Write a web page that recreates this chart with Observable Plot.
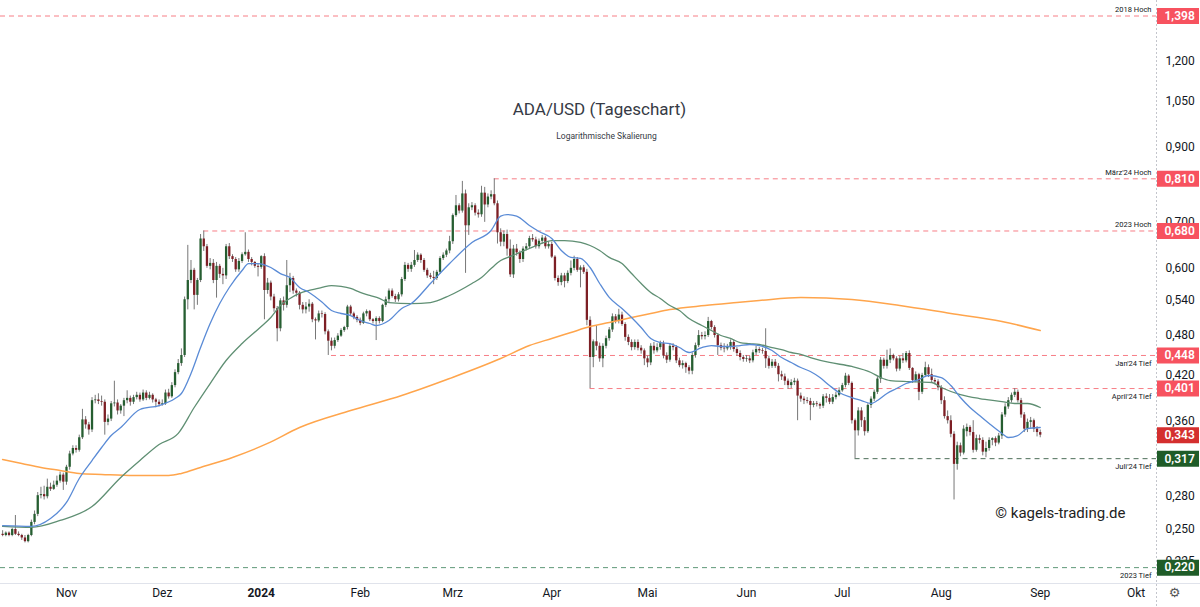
<!DOCTYPE html>
<html>
<head>
<meta charset="utf-8">
<script src="https://cdn.jsdelivr.net/npm/d3@7"></script>
<script src="https://cdn.jsdelivr.net/npm/@observablehq/plot@0.6"></script>
<style>
  html, body { margin: 0; padding: 0; background: #ffffff; }
  #chart { width: 1200px; height: 607px; }
</style>
</head>
<body>
<div id="chart"></div>
<script>
// ---------- daily candles [open, high, low, close] per month ----------
const candlesOct23 = [
  [.246,.249,.244,.245],[.245,.248,.244,.247],[.247,.248,.244,.245],[.245,.251,.244,.250],
  [.250,.262,.245,.246],[.246,.248,.244,.245],[.245,.246,.241,.243],[.243,.245,.239,.240],
  [.240,.246,.239,.245],[.245,.258,.244,.256],[.256,.266,.254,.263],[.263,.283,.261,.280],
  [.280,.288,.277,.281],[.281,.289,.276,.279],[.279,.296,.277,.288],[.288,.292,.284,.286],
  [.286,.294,.285,.290],[.290,.299,.288,.294],[.294,.303,.292,.300],[.300,.302,.285,.293]
];
const candlesNov23 = [
  [.293,.310,.290,.308],[.308,.325,.305,.322],[.322,.331,.320,.328],[.328,.331,.323,.326],
  [.326,.343,.324,.340],[.340,.374,.338,.361],[.361,.365,.350,.355],[.355,.358,.343,.349],
  [.349,.389,.346,.385],[.385,.392,.381,.386],[.386,.394,.380,.384],[.384,.391,.378,.383],
  [.383,.386,.343,.358],[.358,.367,.354,.362],[.362,.384,.359,.381],[.381,.411,.377,.382],
  [.382,.386,.367,.372],[.372,.380,.368,.378],[.378,.388,.365,.385],[.385,.398,.381,.388],
  [.388,.391,.378,.383],[.383,.392,.380,.389],[.389,.396,.386,.392],[.392,.395,.383,.386],
  [.386,.399,.384,.395],[.395,.398,.385,.388],[.388,.396,.386,.392],[.392,.394,.382,.386],
  [.386,.388,.376,.383],[.383,.386,.377,.380]
];
const candlesDec23 = [
  [.380,.386,.378,.381],[.381,.399,.379,.395],[.395,.400,.387,.390],[.390,.409,.388,.405],
  [.405,.427,.402,.423],[.423,.442,.420,.436],[.436,.458,.432,.448],[.448,.545,.445,.540],
  [.540,.648,.522,.576],[.576,.616,.570,.596],[.596,.600,.522,.548],[.548,.580,.530,.576],
  [.576,.672,.572,.662],[.662,.680,.635,.645],[.645,.650,.600,.604],[.604,.620,.597,.610],
  [.610,.618,.570,.576],[.576,.612,.543,.604],[.604,.608,.580,.588],[.588,.600,.568,.585],
  [.585,.650,.578,.645],[.645,.652,.618,.624],[.624,.628,.612,.618],[.618,.622,.592,.597],
  [.597,.620,.592,.614],[.614,.632,.610,.628],[.628,.676,.625,.633],[.633,.638,.612,.618],
  [.618,.622,.605,.612],[.612,.614,.600,.604],[.604,.608,.583,.602]
];
const candlesJan24 = [
  [.602,.626,.598,.624],[.624,.630,.505,.557],[.557,.580,.550,.571],[.571,.575,.538,.545],
  [.545,.550,.518,.524],[.524,.528,.469,.490],[.490,.542,.485,.538],[.538,.545,.520,.530],
  [.530,.616,.525,.566],[.566,.590,.553,.580],[.580,.584,.550,.556],[.556,.560,.545,.552],
  [.552,.555,.522,.530],[.530,.535,.515,.522],[.522,.535,.515,.527],[.527,.540,.518,.532],
  [.532,.535,.500,.505],[.505,.508,.472,.503],[.503,.520,.500,.515],[.515,.520,.508,.514],
  [.514,.517,.480,.485],[.485,.488,.448,.470],[.470,.475,.455,.462],[.462,.475,.458,.471],
  [.471,.482,.468,.478],[.478,.490,.476,.487],[.487,.494,.484,.492],[.492,.530,.488,.527],
  [.527,.530,.512,.515],[.515,.518,.505,.509],[.509,.512,.500,.504]
];
const candlesFeb24 = [
  [.504,.508,.495,.499],[.499,.518,.497,.515],[.515,.522,.510,.519],[.519,.521,.502,.505],
  [.505,.507,.498,.502],[.502,.510,.471,.507],[.507,.510,.498,.502],[.502,.532,.500,.530],
  [.530,.545,.526,.540],[.540,.560,.535,.556],[.556,.560,.543,.546],[.546,.550,.535,.540],
  [.540,.553,.536,.549],[.549,.582,.545,.578],[.578,.612,.574,.606],[.606,.610,.592,.598],
  [.598,.612,.592,.606],[.606,.637,.602,.616],[.616,.632,.612,.627],[.627,.630,.610,.616],
  [.616,.620,.592,.596],[.596,.600,.580,.585],[.585,.590,.578,.582],[.582,.594,.568,.580],
  [.580,.596,.576,.592],[.592,.624,.588,.620],[.620,.632,.616,.627],[.627,.640,.622,.636],
  [.636,.668,.630,.656]
];
const candlesMar24 = [
  [.656,.720,.650,.716],[.716,.766,.712,.740],[.740,.745,.720,.727],[.727,.803,.722,.770],
  [.770,.780,.590,.692],[.692,.745,.670,.735],[.735,.748,.728,.740],[.740,.745,.715,.722],
  [.722,.730,.710,.718],[.718,.790,.712,.772],[.772,.787,.700,.742],[.742,.770,.735,.762],
  [.762,.778,.755,.768],[.768,.810,.740,.745],[.745,.752,.651,.676],[.676,.685,.645,.655],
  [.655,.680,.645,.672],[.672,.682,.625,.640],[.640,.660,.582,.587],[.587,.648,.580,.640],
  [.640,.650,.625,.632],[.632,.636,.610,.618],[.618,.645,.612,.640],[.640,.652,.636,.645],
  [.645,.668,.640,.663],[.663,.672,.655,.660],[.660,.666,.640,.645],[.645,.662,.640,.657],
  [.657,.670,.650,.664],[.664,.668,.640,.645],[.645,.656,.640,.650]
];
const candlesApr24 = [
  [.650,.655,.620,.623],[.623,.626,.575,.580],[.580,.585,.565,.572],[.572,.590,.566,.585],
  [.585,.590,.562,.574],[.574,.595,.570,.590],[.590,.615,.585,.600],[.600,.625,.595,.618],
  [.618,.622,.592,.596],[.596,.605,.562,.601],[.601,.606,.588,.592],[.592,.598,.495,.504],
  [.504,.510,.401,.445],[.445,.472,.430,.469],[.469,.495,.455,.462],[.462,.467,.438,.443],
  [.443,.466,.430,.462],[.462,.478,.458,.474],[.474,.492,.470,.488],[.488,.515,.484,.510],
  [.510,.514,.498,.502],[.502,.523,.498,.513],[.513,.518,.494,.497],[.497,.500,.470,.476],
  [.476,.480,.463,.468],[.468,.472,.455,.460],[.460,.472,.456,.468],[.468,.472,.455,.459],
  [.459,.463,.450,.455],[.455,.458,.433,.443]
];
const candlesMay24 = [
  [.443,.447,.430,.437],[.437,.466,.433,.462],[.462,.468,.450,.455],[.455,.466,.452,.460],
  [.460,.470,.456,.466],[.466,.470,.443,.447],[.447,.452,.436,.441],[.441,.466,.438,.462],
  [.462,.466,.455,.460],[.460,.463,.436,.440],[.440,.444,.430,.433],[.433,.440,.428,.436],
  [.436,.438,.422,.430],[.430,.433,.420,.425],[.425,.452,.420,.448],[.448,.467,.444,.463],
  [.463,.487,.460,.479],[.479,.484,.472,.477],[.477,.485,.472,.479],[.479,.509,.476,.502],
  [.502,.504,.488,.492],[.492,.495,.475,.479],[.479,.482,.448,.463],[.463,.467,.455,.459],
  [.459,.466,.452,.458],[.458,.465,.455,.460],[.460,.472,.456,.468],[.468,.472,.453,.457],
  [.457,.460,.447,.451],[.451,.455,.440,.445],[.445,.448,.438,.442]
];
const candlesJun24 = [
  [.442,.448,.438,.443],[.443,.447,.436,.440],[.440,.456,.437,.452],[.452,.462,.448,.457],
  [.457,.460,.451,.455],[.455,.459,.450,.454],[.454,.490,.429,.443],[.443,.447,.428,.432],
  [.432,.442,.429,.438],[.438,.442,.429,.432],[.432,.436,.410,.420],[.420,.425,.412,.417],
  [.417,.421,.405,.411],[.411,.414,.400,.405],[.405,.413,.401,.409],[.409,.415,.405,.411],
  [.411,.414,.360,.391],[.391,.395,.383,.387],[.387,.390,.380,.385],[.385,.389,.381,.384],
  [.384,.388,.360,.379],[.379,.384,.376,.381],[.381,.384,.377,.380],[.380,.382,.374,.378],
  [.378,.393,.375,.390],[.390,.394,.382,.388],[.388,.393,.380,.383],[.383,.393,.380,.389],
  [.389,.396,.386,.392],[.392,.402,.390,.398]
];
const candlesJul24 = [
  [.398,.408,.396,.405],[.405,.422,.402,.418],[.418,.420,.405,.408],[.408,.410,.356,.360],
  [.360,.362,.317,.348],[.348,.376,.342,.372],[.372,.376,.352,.360],[.360,.364,.342,.347],
  [.347,.381,.345,.379],[.379,.390,.375,.387],[.387,.399,.384,.396],[.396,.417,.393,.414],
  [.414,.445,.408,.441],[.441,.444,.428,.432],[.432,.456,.428,.441],[.441,.458,.436,.448],
  [.448,.450,.440,.443],[.443,.446,.424,.428],[.428,.447,.425,.443],[.443,.451,.436,.440],
  [.440,.454,.437,.451],[.451,.455,.426,.429],[.429,.430,.408,.412],[.412,.424,.409,.420],
  [.420,.422,.385,.396],[.396,.422,.393,.419],[.419,.438,.416,.430],[.430,.434,.416,.420],
  [.420,.428,.409,.412],[.412,.415,.406,.410],[.410,.413,.398,.402]
];
const candlesAug24 = [
  [.402,.405,.380,.385],[.385,.390,.362,.365],[.365,.372,.356,.360],[.360,.366,.340,.344],
  [.344,.347,.276,.311],[.311,.335,.305,.331],[.331,.334,.319,.323],[.323,.354,.321,.350],
  [.347,.356,.341,.352],[.352,.354,.342,.346],[.346,.360,.323,.326],[.326,.343,.324,.339],
  [.339,.343,.333,.337],[.337,.340,.320,.324],[.324,.335,.318,.328],[.328,.340,.325,.337],
  [.337,.340,.331,.339],[.339,.341,.330,.334],[.334,.345,.332,.342],[.342,.370,.338,.367],
  [.367,.381,.364,.377],[.377,.389,.374,.385],[.385,.395,.382,.392],[.392,.401,.389,.396],
  [.396,.399,.382,.385],[.385,.388,.363,.367],[.367,.370,.346,.350],[.350,.362,.346,.358],
  [.358,.364,.351,.360],[.360,.362,.346,.350],[.350,.353,.341,.346]
];
const candlesSep24 = [
  [.346,.349,.340,.343]
];
const candleMonthStarts = ["2023-10-12","2023-11-01","2023-12-01","2024-01-01","2024-02-01","2024-03-01",
  "2024-04-01","2024-05-01","2024-06-01","2024-07-01","2024-08-01","2024-09-01"];
const candleMonths = [candlesOct23, candlesNov23, candlesDec23, candlesJan24, candlesFeb24, candlesMar24,
  candlesApr24, candlesMay24, candlesJun24, candlesJul24, candlesAug24, candlesSep24];

// ---------- moving averages ----------
const maShortDates = ["2023-10-12","2023-10-21","2023-10-27","2023-11-01","2023-11-05","2023-11-09","2023-11-12","2023-11-15","2023-11-18","2023-11-24","2023-11-30","2023-12-05","2023-12-07","2023-12-10","2023-12-13","2023-12-16","2023-12-19","2023-12-22","2023-12-26","2023-12-28","2023-12-31","2024-01-04","2024-01-07","2024-01-10","2024-01-13","2024-01-16","2024-01-20","2024-01-23","2024-01-26","2024-01-29","2024-02-01","2024-02-04","2024-02-06","2024-02-10","2024-02-14","2024-02-17","2024-02-23","2024-02-29","2024-03-07","2024-03-13","2024-03-16","2024-03-18","2024-03-21","2024-03-25","2024-03-28","2024-04-01","2024-04-04","2024-04-07","2024-04-10","2024-04-13","2024-04-16","2024-04-19","2024-04-23","2024-04-26","2024-04-29","2024-05-02","2024-05-05","2024-05-08","2024-05-11","2024-05-14","2024-05-18","2024-05-21","2024-05-24","2024-05-27","2024-05-30","2024-06-02","2024-06-05","2024-06-09","2024-06-12","2024-06-15","2024-06-18","2024-06-21","2024-06-24","2024-06-27","2024-06-30","2024-07-04","2024-07-07","2024-07-10","2024-07-12","2024-07-15","2024-07-18","2024-07-21","2024-07-25","2024-07-28","2024-08-01","2024-08-04","2024-08-07","2024-08-10","2024-08-13","2024-08-16","2024-08-20","2024-08-22","2024-08-25","2024-08-28","2024-09-01"];
const maShortValues = [.2533,.2526,.2594,.2737,.2966,.3150,.3291,.3426,.3519,.3738,.3788,.3878,.3944,.4218,.4601,.4987,.5332,.5627,.5956,.6097,.6097,.6017,.5896,.5818,.5627,.5534,.5359,.5209,.5157,.5122,.5037,.4987,.4953,.5037,.5244,.5332,.5703,.6097,.6543,.6811,.7149,.7186,.7149,.6925,.6789,.6631,.6370,.6224,.6203,.6017,.5703,.5442,.5244,.5088,.4920,.4743,.4679,.4663,.4601,.4525,.4601,.4632,.4617,.4617,.4632,.4648,.4632,.4555,.4449,.4376,.4303,.4246,.4161,.4051,.3957,.3891,.3852,.3814,.3852,.3944,.4010,.4078,.4133,.4189,.4161,.4051,.3891,.3763,.3663,.3566,.3450,.3403,.3426,.3507,.3519];

const maMidDates = ["2023-10-12","2023-10-21","2023-10-30","2023-11-09","2023-11-18","2023-11-24","2023-11-30","2023-12-06","2023-12-11","2023-12-16","2023-12-21","2023-12-26","2024-01-01","2024-01-04","2024-01-07","2024-01-10","2024-01-13","2024-01-16","2024-01-20","2024-01-23","2024-01-26","2024-01-29","2024-02-01","2024-02-04","2024-02-07","2024-02-10","2024-02-17","2024-02-23","2024-02-29","2024-03-07","2024-03-10","2024-03-13","2024-03-16","2024-03-19","2024-03-22","2024-03-25","2024-03-28","2024-04-01","2024-04-05","2024-04-10","2024-04-13","2024-04-16","2024-04-19","2024-04-23","2024-04-26","2024-04-29","2024-05-02","2024-05-05","2024-05-08","2024-05-11","2024-05-14","2024-05-18","2024-05-21","2024-05-24","2024-05-27","2024-05-30","2024-06-02","2024-06-05","2024-06-09","2024-06-12","2024-06-15","2024-06-18","2024-06-21","2024-06-27","2024-07-04","2024-07-10","2024-07-13","2024-07-16","2024-07-22","2024-07-29","2024-08-01","2024-08-07","2024-08-13","2024-08-20","2024-08-24","2024-08-28","2024-09-01"];
const maMidValues = [.2526,.2518,.2577,.2700,.2977,.3151,.3324,.3450,.3763,.4078,.4405,.4663,.4937,.5088,.5297,.5424,.5516,.5571,.5627,.5664,.5646,.5608,.5534,.5478,.5424,.5350,.5332,.5350,.5478,.5703,.5818,.5996,.6159,.6245,.6328,.6413,.6499,.6586,.6586,.6543,.6477,.6370,.6224,.6097,.5896,.5703,.5534,.5424,.5297,.5209,.5071,.4953,.4871,.4790,.4743,.4679,.4663,.4648,.4601,.4570,.4525,.4495,.4449,.4376,.4318,.4232,.4161,.4119,.4105,.4092,.4024,.3930,.3878,.3839,.3814,.3814,.3763];

const maLongDates = ["2023-10-12","2023-10-18","2023-10-24","2023-10-30","2023-11-05","2023-11-12","2023-11-22","2023-12-03","2023-12-07","2023-12-13","2023-12-23","2024-01-03","2024-01-13","2024-01-29","2024-02-14","2024-02-29","2024-03-16","2024-03-25","2024-04-01","2024-04-07","2024-04-13","2024-04-19","2024-04-26","2024-05-02","2024-05-08","2024-05-19","2024-05-29","2024-06-05","2024-06-18","2024-07-04","2024-07-19","2024-08-04","2024-08-20","2024-09-01"];
const maLongValues = [.3161,.3120,.3078,.3047,.3017,.3007,.2996,.2996,.3017,.3078,.3183,.3336,.3519,.3725,.3917,.4147,.4434,.4632,.4743,.4839,.4937,.5003,.5088,.5157,.5226,.5297,.5350,.5386,.5442,.5404,.5297,.5157,.5020,.4871];

// ---------- horizontal levels ----------
const levelValues = [1.398, 0.810, 0.680, 0.448, 0.401, 0.317, 0.220];
const levelNotes = ["2018 Hoch", "März'24 Hoch", "2023 Hoch", "Jan'24 Tief", "April'24 Tief", "Juli'24 Tief", "2023 Tief"];
const levelStarts = [null, "2024-03-14", "2023-12-14", "2024-01-23", "2024-04-13", "2024-07-05", null];
const lastPrice = 0.343;

// ---------- axis ticks ----------
const yTicks = [1.2, 1.05, 0.9, 0.7, 0.6, 0.54, 0.48, 0.42, 0.36, 0.28, 0.25, 0.225];
const monthTickDates = ["2023-11-01","2023-12-01","2024-01-01","2024-02-01","2024-03-01","2024-04-01","2024-05-01","2024-06-01","2024-07-01","2024-08-01","2024-09-01","2024-10-01"];
const monthTickLabels = ["Nov","Dez","2024","Feb","Mrz","Apr","Mai","Jun","Jul","Aug","Sep","Okt"];

const titleText = "ADA/USD (Tageschart)";
const subtitleText = "Logarithmische Skalierung";
const watermarkText = "© kagels-trading.de";

// ---------- build ----------
const candles = candleMonths.flatMap((arr, m) => arr.map((q, k) => ({
  date: d3.utcDay.offset(new Date(candleMonthStarts[m]), k),
  open: q[0], high: q[1], low: q[2], close: q[3]
})));
const toRows = (dates, values) => dates.map((d, i) => ({date: new Date(d), value: values[i]}));
const maShort = toRows(maShortDates, maShortValues);
const maMid = toRows(maMidDates, maMidValues);
const maLong = toRows(maLongDates, maLongValues);

const xDomain = [new Date("2023-10-11T08:00:00Z"), new Date("2024-10-07T10:00:00Z")];
const yDomain = [0.2086, 1.4726];

const RED = "#f7525f", GREEN_BOX = "#1f5c28", LAST_RED = "#d42f2f";
const levels = levelValues.map((v, i) => ({
  value: v, note: levelNotes[i],
  start: levelStarts[i] ? new Date(levelStarts[i]) : xDomain[0],
  above: levelNotes[i].includes("Hoch"),
  line: v > lastPrice ? "#f77e86" : (v > 0.3 ? "#4c6e58" : "#5f9878"),
  box: v > lastPrice ? RED : GREEN_BOX
}));
const boxes = levels.map(d => ({value: d.value, box: d.box})).concat([{value: lastPrice, box: LAST_RED}]);
const fmt = v => v.toFixed(3).replace(".", ",");
const months = monthTickDates.map((d, i) => ({date: new Date(d), label: monthTickLabels[i]}));

const chart = Plot.plot({
  width: 1200, height: 607,
  marginLeft: 0, marginRight: 44, marginTop: 0, marginBottom: 24,
  style: {fontFamily: "Roboto, 'Liberation Sans', sans-serif", fontSize: "12px", background: "#ffffff", color: "#131722"},
  x: {type: "utc", domain: xDomain, axis: null},
  y: {type: "log", domain: yDomain, axis: null},
  color: {type: "identity"},
  marks: [
    // frame lines
    Plot.ruleY([yDomain[0]], {stroke: "#e0e3eb", strokeWidth: 1, insetRight: -44}),
    Plot.ruleX([xDomain[1]], {stroke: "#c3c5cc", strokeDasharray: "2,2", insetBottom: -24}),
    // level lines
    Plot.ruleY(levels, {y: "value", x1: "start", x2: () => xDomain[1], stroke: "line", strokeDasharray: "5,4", strokeWidth: 1}),
    // candles
    Plot.ruleX(candles, {x: "date", y1: "low", y2: "high", stroke: "#777777", strokeWidth: 1}),
    Plot.ruleX(candles, {x: "date", y1: "open", y2: "close", strokeWidth: 2.3,
      stroke: d => d.close >= d.open ? "#265e31" : "#7d1f25"}),
    // moving averages
    Plot.line(maLong, {x: "date", y: "value", stroke: "#ffa54c", strokeWidth: 1.5, curve: "monotone-x"}),
    Plot.line(maMid, {x: "date", y: "value", stroke: "#5f8f73", strokeWidth: 1.3, curve: "monotone-x"}),
    Plot.line(maShort, {x: "date", y: "value", stroke: "#5a8bd6", strokeWidth: 1.3, curve: "monotone-x"}),
    // y axis on the right
    Plot.axisY({anchor: "right", ticks: yTicks, tickSize: 0, tickPadding: 9, tickFormat: fmt,
      fontSize: 12, fill: "#131722", label: null}),
    // level notes
    Plot.text(levels.filter(d => d.above), {y: "value", text: "note", frameAnchor: "right", dx: -5, dy: -6,
      textAnchor: "end", fontSize: 7.5, fill: "#131722"}),
    Plot.text(levels.filter(d => !d.above), {y: "value", text: "note", frameAnchor: "right", dx: -5, dy: 8,
      textAnchor: "end", fontSize: 7.5, fill: "#131722"}),
    // price boxes
    Plot.ruleY(boxes, {y: "value", stroke: "box", strokeWidth: 16, insetLeft: 1157, insetRight: -43}),
    Plot.text(boxes, {y: "value", text: d => fmt(d.value), frameAnchor: "right", dx: 8, textAnchor: "start",
      fill: "#ffffff", fontSize: 12, fontWeight: 600}),
    // month labels
    Plot.text(months.filter(d => d.label !== "2024"), {x: "date", text: "label", frameAnchor: "bottom", dy: 13,
      fontSize: 12, fill: "#131722"}),
    Plot.text(months.filter(d => d.label === "2024"), {x: "date", text: "label", frameAnchor: "bottom", dy: 13,
      fontSize: 12, fontWeight: "bold", fill: "#131722"}),
    Plot.text(["⚙"], {text: d => d, frameAnchor: "bottom-right", dx: 24, dy: 13, fontSize: 13, fill: "#555555",
      fontFamily: "DejaVu Sans"}),
    // titles and watermark
    Plot.text([titleText], {text: d => d, frameAnchor: "top", dx: 21, dy: 102, fontSize: 17, fill: "#363a45"}),
    Plot.text([subtitleText], {text: d => d, frameAnchor: "top", dx: 28, dy: 132, fontSize: 8.5, fill: "#363a45"}),
    Plot.text([watermarkText], {text: d => d, frameAnchor: "top-left", dx: 1125, dy: 507, textAnchor: "end",
      fontSize: 15, fill: "#222222"})
  ]
});
document.getElementById("chart").appendChild(chart);
</script>
</body>
</html>
